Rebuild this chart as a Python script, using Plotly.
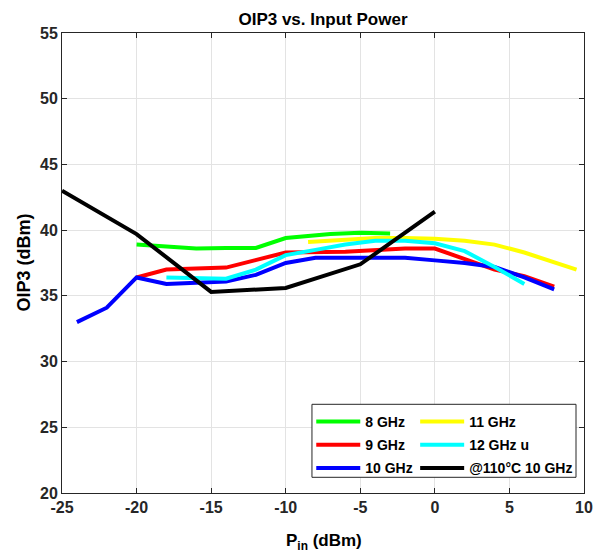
import plotly.graph_objects as go

# ---- data ----
pin_8 = [-20, -18, -16, -14, -12, -10, -7, -5, -3]
oip3_8 = [38.9, 38.75, 38.6, 38.65, 38.65, 39.4, 39.7, 39.8, 39.75]

pin_9 = [-20, -18, -14, -10, -6, -2, 0, 2, 4, 6, 8]
oip3_9 = [36.4, 37.0, 37.15, 38.3, 38.35, 38.6, 38.6, 37.8, 37.0, 36.5, 35.7]

pin_10 = [-24, -22, -20, -18, -14, -12, -10, -8, -6, -4, -2, 0, 2, 4, 6, 8]
oip3_10 = [33.0, 34.1, 36.4, 35.9, 36.1, 36.6, 37.5, 37.9, 37.9, 37.9, 37.9, 37.7, 37.5, 37.2, 36.4, 35.5]

pin_11 = [-8.5, -6, -4, -2, 0, 2, 4, 6, 8, 9.5]
oip3_11 = [39.1, 39.3, 39.4, 39.4, 39.35, 39.2, 38.9, 38.3, 37.6, 37.0]

pin_12 = [-18, -14, -12, -10, -8, -6, -4, -2, 0, 2, 4, 6]
oip3_12 = [36.4, 36.3, 37.0, 38.1, 38.5, 38.9, 39.2, 39.2, 39.0, 38.4, 37.2, 35.9]

pin_hot = [-25, -20, -15, -10, -5, 0]
oip3_hot = [43.0, 39.7, 35.3, 35.6, 37.4, 41.4]

names = ["8 GHz", "9 GHz", "10 GHz", "11 GHz", "12 GHz u", "@110°C 10 GHz"]
colors = ["#00ff00", "#ff0000", "#0000ff", "#ffff00", "#00ffff", "#000000"]
xs = [pin_8, pin_9, pin_10, pin_11, pin_12, pin_hot]
ys = [oip3_8, oip3_9, oip3_10, oip3_11, oip3_12, oip3_hot]
legends = ["legend", "legend", "legend", "legend2", "legend2", "legend2"]

x_ticks = [-25, -20, -15, -10, -5, 0, 5, 10]
y_ticks = [20, 25, 30, 35, 40, 45, 50, 55]

FONT = "Liberation Sans, Arial, Helvetica, sans-serif"
AX = "#262626"

fig = go.Figure()
for i in range(len(names)):
    fig.add_trace(go.Scatter(
        x=xs[i], y=ys[i], mode="lines", name=names[i],
        line=dict(color=colors[i], width=4),
        legend=legends[i], legendgroup="g%d" % i,
    ))

W, H = 609, 557
L, R, T, B = 61.5, 584, 33, 493
pw, ph = R - L, B - T

def px_x(p):
    return (p - L) / pw

def px_y(p):
    return (B - p) / ph

axis_common = dict(
    showline=True, linecolor=AX, linewidth=1, mirror="ticks",
    ticks="inside", ticklen=5, tickcolor=AX, tickwidth=1,
    showgrid=True, gridcolor="#e3e3e3", gridwidth=1, zeroline=False,
    tickfont=dict(family=FONT, size=16, color=AX, weight="bold"),
)

fig.update_layout(
    width=W, height=H,
    margin=dict(l=L, r=W - R, t=T, b=H - B, autoexpand=False),
    paper_bgcolor="white", plot_bgcolor="white",
    title=dict(text="OIP3 vs. Input Power", x=0.5, xref="paper", xanchor="center",
               y=1 - 19 / H, yref="container", yanchor="middle",
               font=dict(family=FONT, size=17, color="#000000", weight="bold")),
    xaxis=dict(range=[-25, 10], tickvals=x_ticks, ticktext=[str(v) for v in x_ticks], **axis_common),
    yaxis=dict(range=[20, 55], tickvals=y_ticks, ticktext=[str(v) for v in y_ticks], **axis_common),
    legend=dict(x=px_x(311), xanchor="left", y=px_y(406), yanchor="top",
                bgcolor="rgba(0,0,0,0)", borderwidth=0, itemwidth=44, tracegroupgap=2,
                font=dict(family=FONT, size=14, color="#000000", weight="bold")),
    legend2=dict(x=px_x(415), xanchor="left", y=px_y(406), yanchor="top",
                 bgcolor="rgba(0,0,0,0)", borderwidth=0, itemwidth=44, tracegroupgap=2,
                 font=dict(family=FONT, size=14, color="#000000", weight="bold")),
    shapes=[dict(type="rect", xref="paper", yref="paper",
                 x0=px_x(311.7), x1=px_x(576), y0=px_y(477.3), y1=px_y(404.3),
                 fillcolor="white", line=dict(color=AX, width=1), layer="above")],
    annotations=[
        dict(text="OIP3 (dBm)", textangle=-90, xref="paper", yref="paper",
             x=px_x(23), y=0.5, xanchor="center", yanchor="middle", showarrow=False,
             font=dict(family=FONT, size=18, color="#000000", weight="bold")),
        dict(text="P<sub>in</sub> (dBm)", xref="paper", yref="paper",
             x=px_x(324), y=px_y(529), xanchor="center", yanchor="top", showarrow=False,
             font=dict(family=FONT, size=17, color="#000000", weight="bold")),
    ],
)

fig.write_html("out.html")
